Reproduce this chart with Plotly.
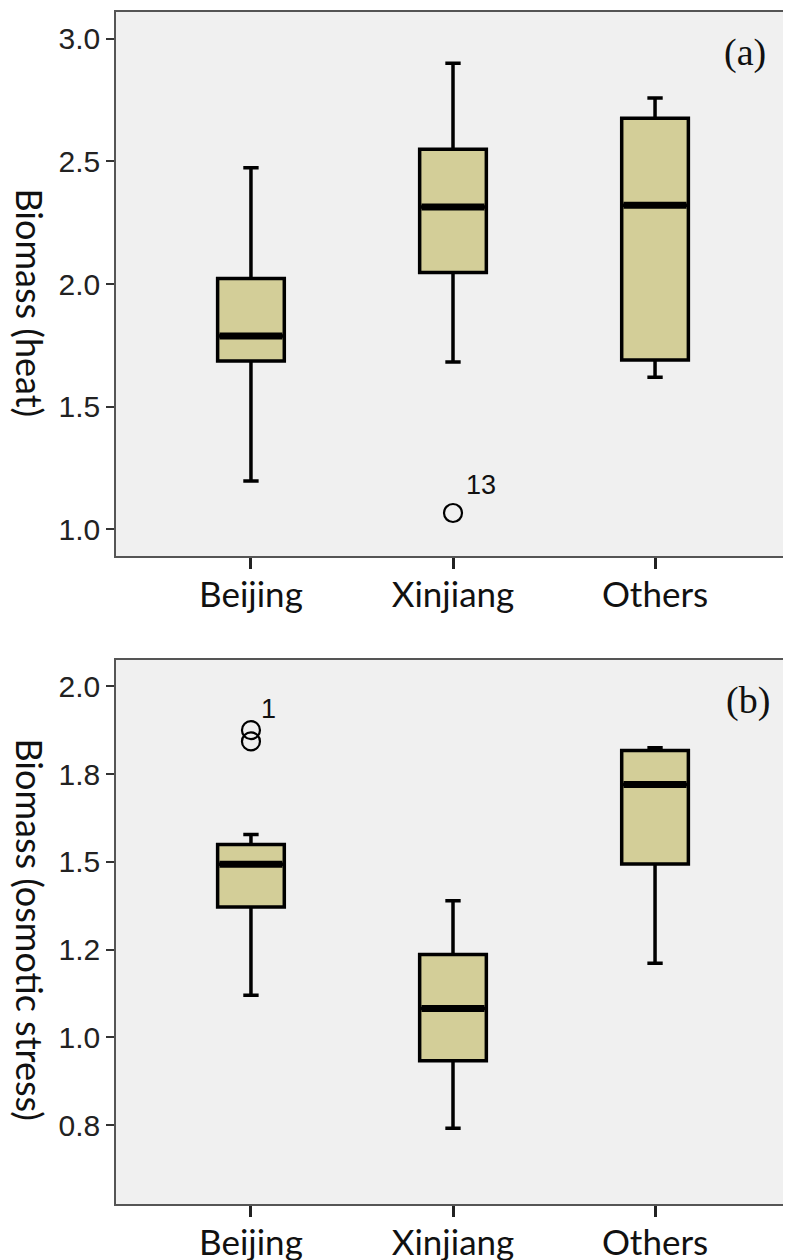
import plotly.graph_objects as go
from plotly.subplots import make_subplots

categories = ["Beijing", "Xinjiang", "Others"]

# Panel (a): Biomass (heat)
heat_lower = [1.197, 1.682, 1.620]
heat_q1 = [1.686, 2.047, 1.690]
heat_median = [1.788, 2.314, 2.321]
heat_q3 = [2.022, 2.550, 2.676]
heat_upper = [2.474, 2.900, 2.759]
heat_out_cat = ["Xinjiang"]
heat_out_val = [1.066]
heat_out_lab = ["13"]

# Panel (b): Biomass (osmotic stress)
osm_lower = [1.120, 0.741, 1.211]
osm_q1 = [1.371, 0.933, 1.494]
osm_median = [1.493, 1.082, 1.720]
osm_q3 = [1.549, 1.236, 1.817]
osm_upper = [1.578, 1.389, 1.825]
osm_out_cat = ["Beijing", "Beijing"]
osm_out_val = [1.875, 1.843]
osm_out_lab = ["1", ""]

heat_ticks = [1.0, 1.5, 2.0, 2.5, 3.0]
heat_ticktext = ["1.0", "1.5", "2.0", "2.5", "3.0"]
osm_ticks = [0.75, 1.0, 1.25, 1.5, 1.75, 2.0]
osm_ticktext = ["0.8", "1.0", "1.2", "1.5", "1.8", "2.0"]

FILL = "#D3CE98"
BG = "#F0F0F0"
LABEL_SHIFT = {"13": (28, 28), "1": (18, 21)}

fig = make_subplots(rows=2, cols=1, vertical_spacing=0.0872)

def add_panel(row, lower, q1, med, q3, upper, out_cat, out_val, out_lab):
    fig.add_trace(go.Box(
        x=categories, q1=q1, median=med, q3=q3,
        lowerfence=lower, upperfence=upper,
        fillcolor=FILL, line=dict(color="black", width=3.5),
        width=0.33, whiskerwidth=0.23, boxpoints=False,
        showlegend=False, hoverinfo="skip"), row=row, col=1)
    fig.add_trace(go.Scatter(
        x=categories, y=med, mode="markers",
        marker=dict(symbol="line-ew", size=45, color="black",
                    line=dict(color="black", width=7)),
        showlegend=False, hoverinfo="skip"), row=row, col=1)
    fig.add_trace(go.Scatter(
        x=out_cat, y=out_val, mode="markers",
        marker=dict(symbol="circle-open", size=18, color="black",
                    line=dict(color="black", width=2.2)),
        showlegend=False, hoverinfo="skip"), row=row, col=1)
    xr = "x" if row == 1 else "x2"
    yr = "y" if row == 1 else "y2"
    for c, v, t in zip(out_cat, out_val, out_lab):
        if t:
            dx, dy = LABEL_SHIFT[t]
            fig.add_annotation(x=c, y=v, xref=xr, yref=yr, text=t,
                               showarrow=False, xshift=dx, yshift=dy,
                               font=dict(family="Liberation Sans", size=27, color="#111"))

add_panel(1, heat_lower, heat_q1, heat_median, heat_q3, heat_upper,
          heat_out_cat, heat_out_val, heat_out_lab)
add_panel(2, osm_lower, osm_q1, osm_median, osm_q3, osm_upper,
          osm_out_cat, osm_out_val, osm_out_lab)

xcommon = dict(type="category", categoryorder="array", categoryarray=categories,
               range=[-0.668, 2.668], showline=True, mirror=True, automargin=False,
               linecolor="#555555", linewidth=1.5, showgrid=False, zeroline=False,
               ticks="outside", ticklen=11, tickwidth=3, tickcolor="#222222",
               ticklabelstandoff=-4,
               tickfont=dict(family="Lato", size=35, color="#111111"))
ycommon = dict(showline=True, mirror=True, linecolor="#555555", linewidth=1.5,
               showgrid=False, zeroline=False, ticks="outside", ticklen=8, automargin=False,
               tickwidth=1.5, tickcolor="#333333",
               tickfont=dict(family="Liberation Sans", size=30, color="#222222"))

fig.update_xaxes(**xcommon)
fig.update_yaxes(**ycommon)
fig.update_yaxes(range=[0.8905, 3.1095], tickvals=heat_ticks, ticktext=heat_ticktext, row=1, col=1)
fig.update_yaxes(range=[0.525, 2.075], tickvals=osm_ticks, ticktext=osm_ticktext, row=2, col=1)

fig.update_layout(
    width=791, height=1260,
    margin=dict(l=108, r=9, t=4, b=64),
    paper_bgcolor="white", plot_bgcolor=BG,
    showlegend=False,
)
fig.update_layout(yaxis=dict(domain=[0.5436, 1.0]), yaxis2=dict(domain=[0.0, 0.4564]))

# panel letters
fig.add_annotation(text="(a)", xref="x domain", yref="y domain", x=0.933, y=0.925,
                   showarrow=False, xanchor="center", yanchor="middle",
                   font=dict(family="Liberation Serif", size=38, color="#111111"))
fig.add_annotation(text="(b)", xref="x2 domain", yref="y2 domain", x=0.938, y=0.925,
                   showarrow=False, xanchor="center", yanchor="middle",
                   font=dict(family="Liberation Serif", size=38, color="#111111"))

# rotated y titles (reading top to bottom)
fig.add_annotation(text="Biomass (heat)", xref="paper", yref="paper", x=-0.127, y=0.756,
                   textangle=90, showarrow=False, xanchor="center", yanchor="middle",
                   font=dict(family="Lato", size=36, color="#111111"))
fig.add_annotation(text="Biomass (osmotic stress)", xref="paper", yref="paper", x=-0.127, y=0.230,
                   textangle=90, showarrow=False, xanchor="center", yanchor="middle",
                   font=dict(family="Lato", size=36, color="#111111"))

fig.write_html("out.html")
